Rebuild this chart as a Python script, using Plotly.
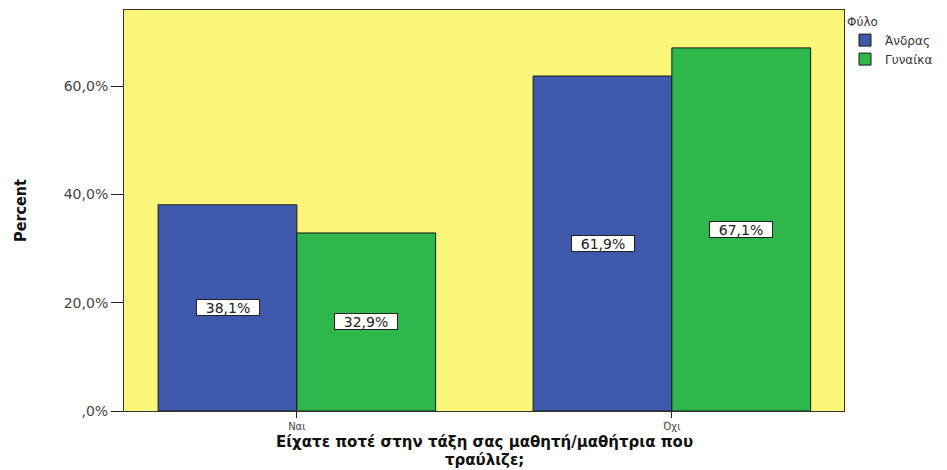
import plotly.graph_objects as go

# Survey: "did you ever have a pupil who stuttered?" split by gender
categories = ["Ναι", "Όχι"]
cat_pos = [0, 1]
men = [38.1, 61.9]
women = [32.9, 67.1]
y_ticks = [0, 20, 40, 60]
y_ticklabels = [",0%", "20,0%", "40,0%", "60,0%"]
x_title_lines = ["Είχατε ποτέ στην τάξη σας μαθητή/μαθήτρια που", "τραύλιζε;"]

BLUE = "#3E58AC"
GREEN = "#2EB84B"
YELLOW = "#FAF679"
FONT = "DejaVu Sans"

bar_w = 0.37

fig = go.Figure()
fig.add_trace(go.Bar(name="Άνδρας", x=cat_pos, y=men, marker_color=BLUE,
                     marker_line=dict(color="#1a1a1a", width=1), width=bar_w,
                     offset=-bar_w))
fig.add_trace(go.Bar(name="Γυναίκα", x=cat_pos, y=women, marker_color=GREEN,
                     marker_line=dict(color="#1a1a1a", width=1), width=bar_w,
                     offset=0))

# value boxes centred in each bar
for series, shift in ((men, -bar_w / 2), (women, bar_w / 2)):
    for xp, v in zip(cat_pos, series):
        fig.add_annotation(x=xp + shift, y=v / 2, text=f"{v:.1f}%".replace(".", ","),
                           showarrow=False, bgcolor="white", bordercolor="#222",
                           borderwidth=1, borderpad=0, width=62, height=15,
                           font=dict(family=FONT, size=14, color="#222"))

# two-line x-axis title, lines placed just below the category labels
for i, line in enumerate(x_title_lines):
    fig.add_annotation(xref="paper", yref="paper", x=0.5, y=0, yanchor="middle",
                       yshift=-31 - 18 * i, text=f"<b>{line}</b>", showarrow=False,
                       font=dict(family=FONT, size=15, color="#111"))

fig.update_layout(
    width=947, height=470,
    margin=dict(l=124, r=102, t=10, b=59),
    paper_bgcolor="white", plot_bgcolor=YELLOW,
    barmode="overlay",
    showlegend=True,
    legend=dict(title=dict(text="Φύλο", font=dict(family=FONT, size=12, color="#333")),
                x=1.0, y=1.0, xanchor="left", yanchor="top",
                font=dict(family=FONT, size=12, color="#333"),
                itemwidth=30, tracegroupgap=0, bgcolor="rgba(0,0,0,0)",
                borderwidth=0),
    xaxis=dict(range=[-0.461, 1.459], tickvals=cat_pos, ticktext=categories,
               ticks="outside", ticklen=6, tickcolor="#222", automargin=False,
               showline=True, linecolor="#333", linewidth=1, mirror=True,
               showgrid=False, zeroline=False,
               tickfont=dict(family=FONT, size=10, color="#444")),
    yaxis=dict(range=[0, 74.1], tickvals=y_ticks, ticktext=y_ticklabels,
               ticks="outside", ticklen=12, tickcolor="#222", automargin=False,
               showline=True, linecolor="#333", linewidth=1, mirror=True,
               showgrid=False, zeroline=False,
               tickfont=dict(family=FONT, size=14, color="#444"),
               title=dict(text="<b>Percent</b>",
                          font=dict(family="DejaVu Sans Condensed", size=16, color="#111"),
                          standoff=33)),
)

fig.write_html("out.html")
